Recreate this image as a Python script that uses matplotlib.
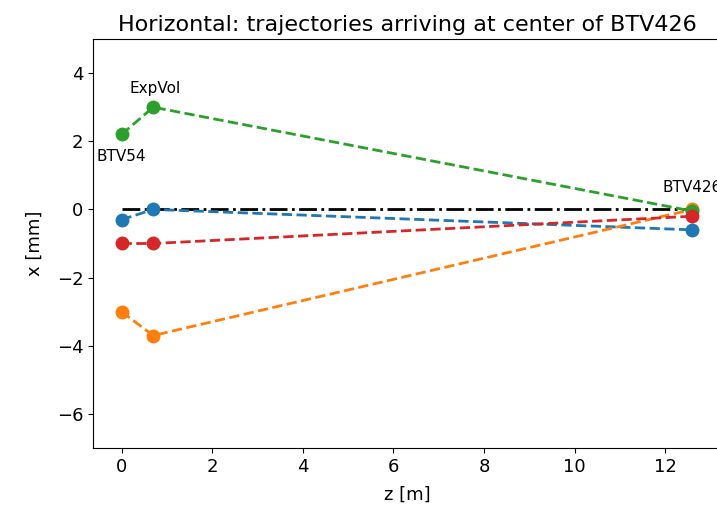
import matplotlib
matplotlib.use("Agg")
import matplotlib.pyplot as plt

# element positions along the beamline [m]
z = [0.0, 0.7, 12.6]
element_names = ["BTV54", "ExpVol", "BTV426"]

# horizontal positions [mm] of each trajectory at the three elements
traj_blue = [-0.3, 0.0, -0.6]
traj_orange = [-3.0, -3.7, 0.0]
traj_green = [2.2, 3.0, -0.05]
traj_red = [-1.0, -1.0, -0.2]

ref_z = [0.0, 12.6]
ref_x = [0.0, 0.0]

fig = plt.figure(figsize=(7.17, 5.13), dpi=100)
ax = fig.add_axes([93 / 717, 65 / 513, (721 - 93) / 717, (474 - 65) / 513])

ax.plot(ref_z, ref_x, color="black", linestyle="-.", linewidth=2)
for xs, c in [(traj_blue, "#1f77b4"), (traj_orange, "#ff7f0e"),
              (traj_green, "#2ca02c"), (traj_red, "#d62728")]:
    ax.plot(z, xs, linestyle="--", marker="o", color=c, linewidth=2, markersize=9)

# element labels
ax.text(z[0], 1.55, element_names[0], ha="center", va="center", fontsize=11)
ax.text(z[1] + 0.05, 3.55, element_names[1], ha="center", va="center", fontsize=11)
ax.text(z[2], 0.65, element_names[2], ha="center", va="center", fontsize=11)

ax.set_ylim(-7, 5)
ax.set_xlabel("z [m]", fontsize=13, labelpad=7)
ax.set_ylabel("x [mm]", fontsize=13, labelpad=9)
ax.tick_params(labelsize=13)
ax.set_title("Horizontal: trajectories arriving at center of BTV426", fontsize=16)

fig.savefig("out.png", dpi=100)
